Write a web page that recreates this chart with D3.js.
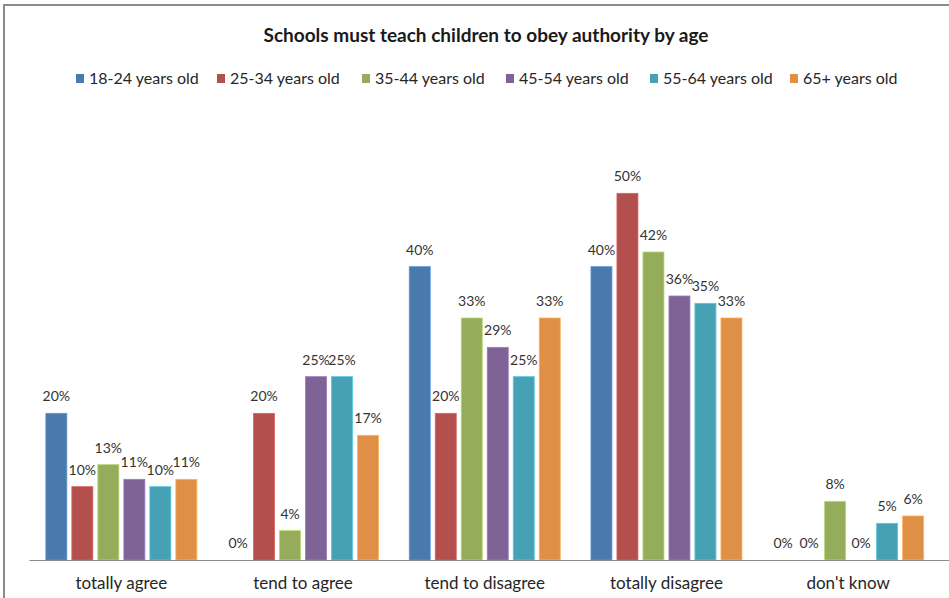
<!DOCTYPE html>
<html>
<head>
<meta charset="utf-8">
<script src="https://cdn.jsdelivr.net/npm/d3@7"></script>
<style>
  html, body { margin: 0; padding: 0; background: #fff; }
  svg { display: block; font-family: "Lato", "Open Sans", sans-serif; }
</style>
</head>
<body>
<svg id="chart" width="949" height="598"></svg>
<script>
// Survey answers by age group (percent)
const categories = ["totally agree", "tend to agree", "tend to disagree", "totally disagree", "don't know"];
const seriesNames = ["18-24 years old", "25-34 years old", "35-44 years old", "45-54 years old", "55-64 years old", "65+ years old"];
const age18to24 = [20, 0, 40, 40, 0];
const age25to34 = [10, 20, 20, 50, 0];
const age35to44 = [13, 4, 33, 42, 8];
const age45to54 = [11, 25, 29, 36, 0];
const age55to64 = [10, 25, 25, 35, 5];
const age65plus = [11, 17, 33, 33, 6];
const seriesValues = [age18to24, age25to34, age35to44, age45to54, age55to64, age65plus];
const colors = ["#4a7aad", "#b34f4c", "#95ad5a", "#7f6397", "#46a1b5", "#e08f47"];
const titleText = "Schools must teach children to obey authority by age";

const svg = d3.select("#chart");
const W = 949, H = 598;

// outer frame
svg.append("rect")
  .attr("x", 4).attr("y", 5)
  .attr("width", W + 10).attr("height", H + 10)
  .attr("fill", "none").attr("stroke", "#8c8c8c").attr("stroke-width", 2);

const plot = { left: 30.5, right: 939, top: 120, bottom: 560 };

const x0 = d3.scaleBand().domain(categories).range([plot.left, plot.right]).paddingInner(0).paddingOuter(0);
const groupW = x0.bandwidth();
const barStep = 26, barW = 21;
const y = d3.scaleLinear().domain([0, 60]).range([plot.bottom, plot.top]);

// title
svg.append("text")
  .attr("x", 486).attr("y", 42)
  .attr("text-anchor", "middle")
  .attr("font-size", 19).attr("font-weight", "bold").attr("fill", "#1a1a1a")
  .text(titleText);

// legend
const legendX = [76, 217, 362, 506, 650, 790];
const legend = svg.append("g");
seriesNames.forEach((name, i) => {
  const g = legend.append("g").attr("transform", `translate(${legendX[i]},78)`);
  g.append("rect").attr("x", 0).attr("y", -4).attr("width", 8).attr("height", 9).attr("fill", colors[i]);
  g.append("text").attr("x", 13).attr("y", 6).attr("font-size", 16).attr("fill", "#262626").text(name);
});

// bars
const groups = svg.append("g").selectAll("g")
  .data(categories)
  .join("g")
  .attr("transform", d => `translate(${x0(d) + groupW / 2 - (barStep * 6 - (barStep - barW)) / 2},0)`);

groups.each(function(cat, ci) {
  const g = d3.select(this);
  seriesValues.forEach((vals, si) => {
    const v = vals[ci];
    const bx = si * barStep;
    if (v > 0) {
      g.append("rect")
        .attr("x", bx).attr("y", y(v))
        .attr("width", barW).attr("height", y(0) - y(v))
        .attr("fill", colors[si])
        .attr("stroke", d3.color(colors[si]).brighter(0.6)).attr("stroke-width", 0.8);
    }
    g.append("text")
      .attr("x", bx + barW / 2).attr("y", y(v) - 12)
      .attr("text-anchor", "middle")
      .attr("font-size", 14).attr("fill", "#333")
      .text(v + "%");
  });
});

// category axis
svg.append("line")
  .attr("x1", plot.left - 1).attr("x2", W).attr("y1", plot.bottom + 0.5).attr("y2", plot.bottom + 0.5)
  .attr("stroke", "#8c8c8c").attr("stroke-width", 1);

svg.append("g").selectAll("text")
  .data(categories)
  .join("text")
  .attr("x", d => x0(d) + groupW / 2)
  .attr("y", 589)
  .attr("text-anchor", "middle")
  .attr("font-size", 17).attr("fill", "#262626")
  .text(d => d);
</script>
</body>
</html>
